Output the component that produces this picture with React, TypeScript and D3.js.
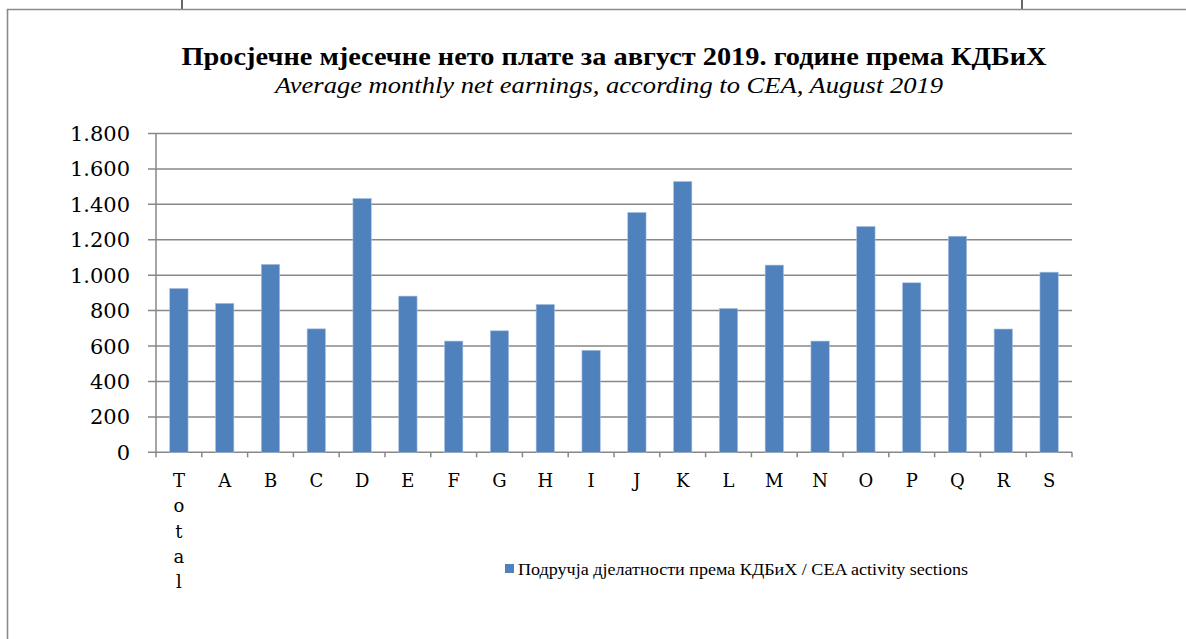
import React from "react";
import * as d3 from "d3";

const categories = ["Total", "A", "B", "C", "D", "E", "F", "G", "H", "I", "J", "K", "L", "M", "N", "O", "P", "Q", "R", "S"];
const earnings = [925, 841, 1061, 697, 1433, 882, 628, 686, 835, 576, 1354, 1529, 812, 1057, 628, 1275, 957, 1220, 696, 1017];
const yTicks = [0, 200, 400, 600, 800, 1000, 1200, 1400, 1600, 1800];
const titleText = "Просјечне мјесечне нето плате за август 2019. године према КДБиХ";
const subtitleText = "Average monthly net earnings, according to CEA, August 2019";
const legendText = "Подручја дјелатности према КДБиХ / CEA activity sections";

const W = 1186;
const H = 639;
const FONT = "'DejaVu Serif', 'Liberation Serif', serif";
const FONT2 = "'Liberation Serif', 'DejaVu Serif', serif";

export default function App() {
  const x = d3.scaleBand<string>().domain(categories).range([156, 1072]).paddingInner(0.6).paddingOuter(0.3);
  const y = d3.scaleLinear().domain([0, 1800]).range([452.3, 133.5]);
  const step = x.step();
  const fmt = (v: number) => d3.format(",")(v).replace(/,/g, ".");
  const grid = "#878787";

  return (
    <svg width={W} height={H} style={{ position: "absolute", left: 0, top: 0, background: "#fff" }}>
      {/* page frame */}
      <line x1={182} x2={182} y1={0} y2={10} stroke="#000" strokeWidth={1.2} />
      <line x1={1022} x2={1022} y1={0} y2={10} stroke="#000" strokeWidth={1.2} />
      <path d={`M7.5,${H + 5} V9.5 H${W + 5}`} fill="none" stroke="#8a8a8a" strokeWidth={1.6} />

      {/* title */}
      <text x={614} y={65} textAnchor="middle" fontFamily={FONT2} fontWeight="bold" fontSize={24.5}
        textLength={865} lengthAdjust="spacingAndGlyphs" fill="#000">{titleText}</text>
      <text x={609} y={93} textAnchor="middle" fontFamily={FONT2} fontStyle="italic" fontSize={23.5}
        textLength={668} lengthAdjust="spacingAndGlyphs" fill="#000">{subtitleText}</text>

      {/* gridlines and y labels */}
      {yTicks.map((t) => (
        <g key={t}>
          <line x1={148} x2={1072} y1={y(t)} y2={y(t)} stroke={grid} strokeWidth={1.5} />
          <text x={130} y={y(t)} dy="0.36em" textAnchor="end" fontFamily={FONT} fontSize={21} fill="#000">
            {fmt(t)}
          </text>
        </g>
      ))}

      {/* y axis */}
      <line x1={156} x2={156} y1={y(1800)} y2={y(0)} stroke={grid} strokeWidth={1.5} />

      {/* x ticks */}
      {d3.range(categories.length + 1).map((i) => {
        const xp = 156 + i * step;
        return <line key={i} x1={xp} x2={xp} y1={y(0)} y2={y(0) + 5} stroke={grid} strokeWidth={1.5} />;
      })}

      {/* bars */}
      {categories.map((c, i) => (
        <rect key={c} x={x(c)} y={y(earnings[i])} width={x.bandwidth()} height={y(0) - y(earnings[i])}
          fill="#4F81BD" stroke="#a9c0df" strokeWidth={0.6} />
      ))}

      {/* x labels (stacked letters as in the original) */}
      {categories.map((c) => (
        <text key={c} fontFamily={FONT} fontSize={18} textAnchor="middle" fill="#000">
          {c.split("").map((ch, j) => (
            <tspan key={j} x={(x(c) as number) + x.bandwidth() / 2} y={487 + j * 25.3}>{ch}</tspan>
          ))}
        </text>
      ))}

      {/* legend */}
      <rect x={505} y={564} width={9} height={9} fill="#4F81BD" />
      <text x={518} y={575} fontFamily={FONT2} fontSize={17.5} textLength={450} lengthAdjust="spacingAndGlyphs" fill="#000">
        {legendText}
      </text>
    </svg>
  );
}
